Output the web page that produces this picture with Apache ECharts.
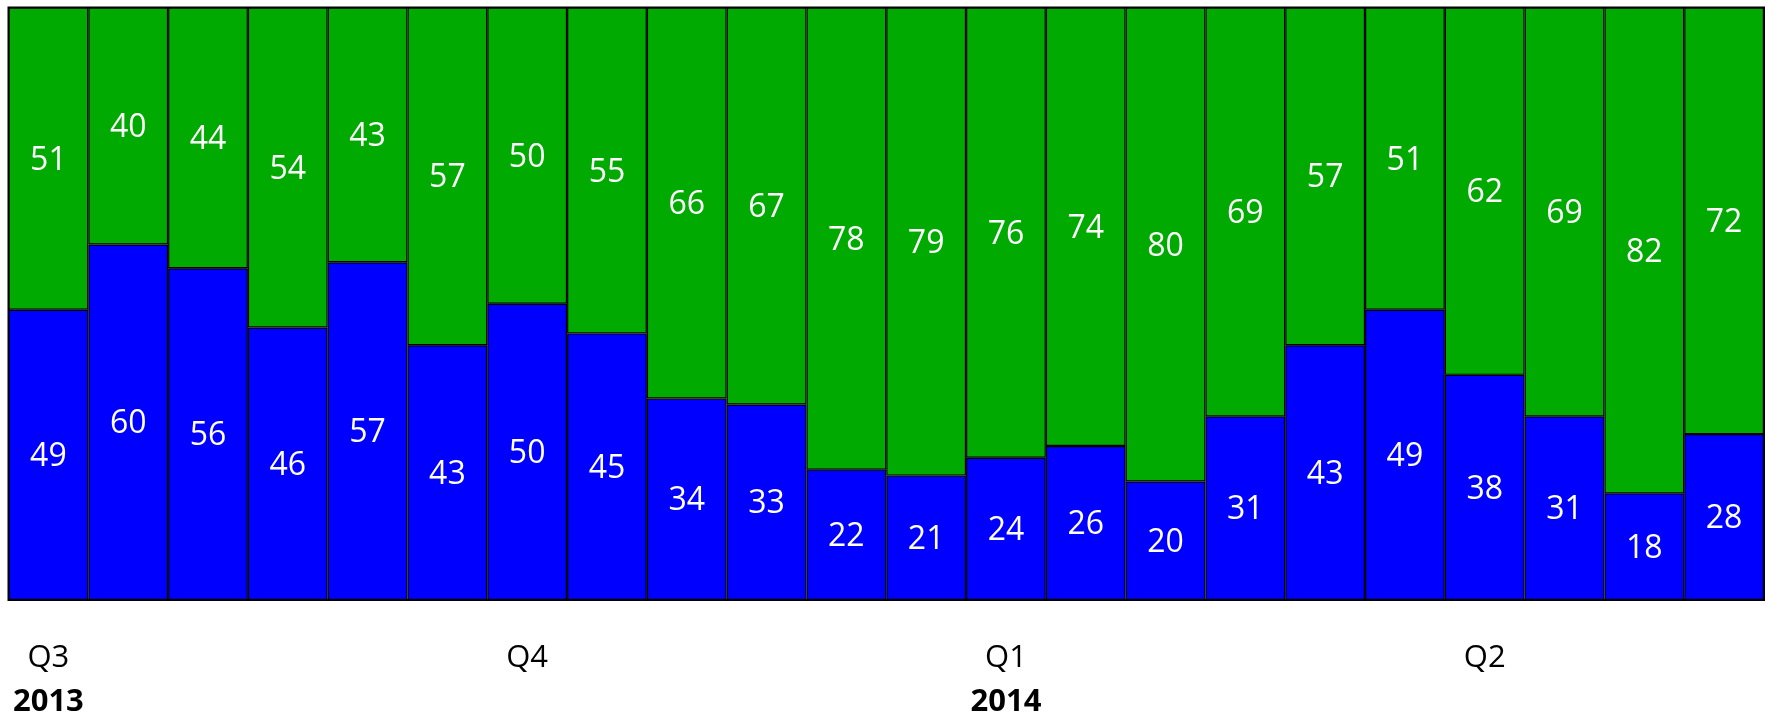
<!DOCTYPE html>
<html>
<head>
<meta charset="utf-8">
<script src="https://cdn.jsdelivr.net/npm/echarts@6/dist/echarts.min.js"></script>
<style>
html,body{margin:0;padding:0;background:#fff;}
#c{width:1769px;height:715px;}
</style>
</head>
<body>
<div id="c"></div>
<script>
var categories = ['Q3|2013','','','','','','Q4','','','','','','Q1|2014','','','','','','Q2','','',''];
var blueValues = [49,60,56,46,57,43,50,45,34,33,22,21,24,26,20,31,43,49,38,31,18,28];
var greenValues = [51,40,44,54,43,57,50,55,66,67,78,79,76,74,80,69,57,51,62,69,82,72];

var chart = echarts.init(document.getElementById('c'));
var labelStyle = {
  show: true,
  position: 'inside',
  offset: [0, 2],
  color: '#ffffff',
  fontFamily: 'Open Sans',
  fontSize: 32
};
chart.setOption({
  animation: false,
  grid: {left: 8.5, right: 5, top: 7.5, bottom: 115, outerBoundsMode: 'none', containLabel: false, show: true, borderColor: '#000', borderWidth: 2, backgroundColor: 'transparent'},
  xAxis: {
    type: 'category',
    data: categories,
    axisLine: {show: false},
    axisTick: {show: false},
    axisLabel: {
      interval: 0,
      margin: 36,
      verticalAlign: 'top',
      formatter: function (v) {
        if (!v) return '';
        var p = v.split('|');
        return p.length > 1 ? '{q|' + p[0] + '}\n{y|' + p[1] + '}' : '{q|' + p[0] + '}';
      },
      rich: {
        q: {fontFamily: 'Open Sans', fontSize: 31, color: '#000', lineHeight: 44},
        y: {fontFamily: 'Open Sans', fontSize: 31, fontWeight: 'bold', color: '#000', lineHeight: 44}
      }
    }
  },
  yAxis: {type: 'value', min: 0, max: 100, show: false, splitLine: {show: false}},
  series: [
    {
      type: 'bar', stack: 's', data: blueValues, barCategoryGap: '0%',
      itemStyle: {color: '#0000FF', borderColor: '#000', borderWidth: 1.2},
      label: labelStyle
    },
    {
      type: 'bar', stack: 's', data: greenValues, barCategoryGap: '0%',
      itemStyle: {color: '#00AA00', borderColor: '#000', borderWidth: 1.2},
      label: labelStyle
    }
  ]
});
</script>
</body>
</html>
